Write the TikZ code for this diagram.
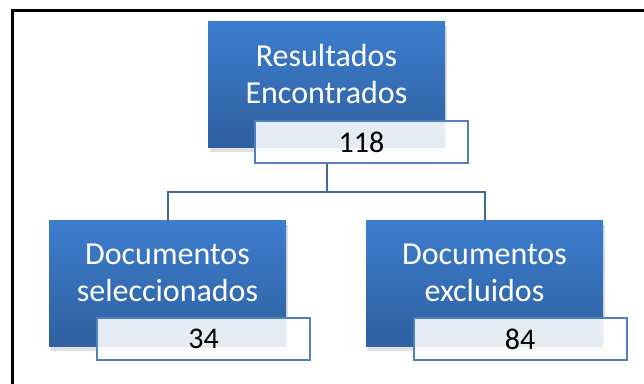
\documentclass[tikz,border=0pt]{standalone}
\usepackage{fontspec}
\setmainfont{Carlito}
\usetikzlibrary{shadows}

\definecolor{boxtop}{HTML}{3C7DCD}
\definecolor{boxbot}{HTML}{2F609F}
\definecolor{numline}{HTML}{4F81BD}
\definecolor{connline}{HTML}{3D6A9A}

\tikzset{
  mainbox/.style={minimum width=118.5pt, minimum height=63pt, inner sep=0pt,
    shading=axis, top color=boxtop, bottom color=boxbot,
    drop shadow={shadow xshift=1pt, shadow yshift=-1.8pt, opacity=0.25}},
  boxtxt/.style={text=white, align=center, font=\fontsize{16}{18.5}\selectfont},
  numbox/.style={draw=numline, line width=1pt, fill=white, fill opacity=0.88,
    text opacity=1, minimum width=106.5pt, minimum height=21pt, inner sep=0pt,
    font=\fontsize{15}{17}\selectfont},
  conn/.style={draw=connline, line width=1pt}
}

\begin{document}
\begin{tikzpicture}[x=0.5pt, y=-0.5pt]
\useasboundingbox (0,0) rectangle (644,384);

% frame
\draw[line width=1.5pt] (12,384) -- (12,11) -- (644,11);

% boxes
\node[mainbox] (res) at (326.5,85) {};
\node[mainbox] (sel) at (167.5,284) {};
\node[mainbox] (exc) at (484.5,284) {};

\node[boxtxt] (restxt) at ([yshift=5.5pt]res.center) {Resultados\\Encontrados};
\node[boxtxt] (seltxt) at ([yshift=5.75pt]sel.center) {Documentos\\seleccionados};
\node[boxtxt] (exctxt) at ([yshift=5.75pt]exc.center) {Documentos\\excluidos};

% numbers
\node[numbox] (tot) at ([xshift=17.5pt, yshift=3pt]res.south) {118};
\node[numbox] (nsel) at ([xshift=18pt, yshift=4.25pt]sel.south) {34};
\node[numbox] (nexc) at ([xshift=17.75pt, yshift=4.25pt]exc.south) {84};

% connectors
\coordinate (fork) at (326.5,192);
\draw[conn] (res.south |- tot.south) -- (fork) -| (sel.north);
\draw[conn] (fork) -| (exc.north);
\end{tikzpicture}
\end{document}
